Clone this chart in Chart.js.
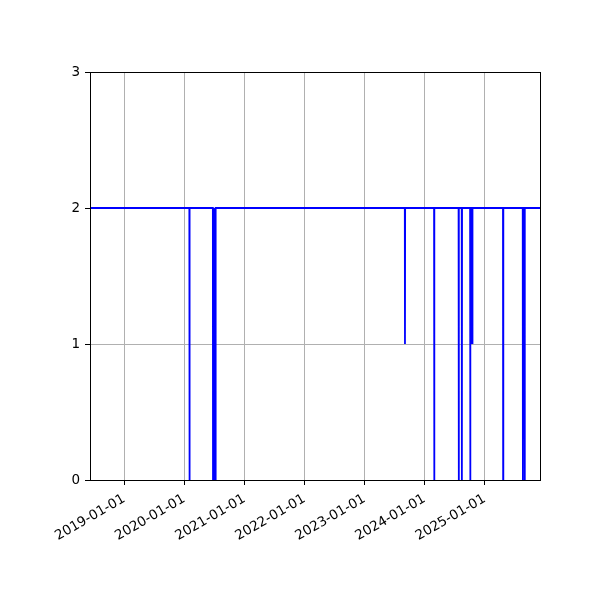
<!DOCTYPE html>
<html>
<head>
<meta charset="utf-8">
<script src="https://cdn.jsdelivr.net/npm/chart.js"></script>
<style>
  html, body { margin: 0; padding: 0; background: #fff; }
  #c { display: block; }
</style>
</head>
<body>
<canvas id="c" width="600" height="600"></canvas>
<script>
// series: level 2 with short drops to 0 or 1
const dates = [
  '2018-06-07',
  '2020-02-01', '2020-02-02', '2020-02-03',
  '2020-06-23', '2020-06-24', '2020-06-25',
  '2020-06-29', '2020-06-30', '2020-07-01',
  '2020-07-05', '2020-07-06', '2020-07-07',
  '2020-07-10', '2020-07-11', '2020-07-12',
  '2023-09-03', '2023-09-04', '2023-09-05',
  '2024-02-28', '2024-02-29', '2024-03-01',
  '2024-07-26', '2024-07-27', '2024-07-28',
  '2024-08-14', '2024-08-15', '2024-08-16',
  '2024-10-04', '2024-10-05', '2024-10-06',
  '2024-10-11', '2024-10-12', '2024-10-13',
  '2024-10-17', '2024-10-18', '2024-10-19',
  '2025-04-22', '2025-04-23', '2025-04-24',
  '2025-08-20', '2025-08-21', '2025-08-22',
  '2025-08-31', '2025-09-01', '2025-09-02',
  '2025-12-03'
];
const values = [
  2,
  2, 0, 2,
  2, 0, 2,
  2, 0, 2,
  2, 0, 2,
  2, 0, 2,
  2, 1, 2,
  2, 0, 2,
  2, 0, 2,
  2, 0, 2,
  2, 0, 2,
  2, 1, 2,
  2, 1, 2,
  2, 0, 2,
  2, 0, 2,
  2, 0, 2,
  2
];
const xMin = '2018-06-07';
const xMax = '2025-12-03';
const tickDates = ['2019-01-01', '2020-01-01', '2021-01-01', '2022-01-01',
                   '2023-01-01', '2024-01-01', '2025-01-01'];
const yTicks = [0, 1, 2, 3];

const points = dates.map((d, i) => ({ x: Date.parse(d), y: values[i] }));

// matplotlib style frame on all four sides
const frame = {
  id: 'frame',
  afterDraw(chart) {
    const a = chart.chartArea, g = chart.ctx;
    g.save();
    g.strokeStyle = '#000';
    g.lineWidth = 1;
    g.strokeRect(Math.round(a.left) + 0.5, Math.round(a.top) + 0.5,
                 Math.round(a.right - a.left), Math.round(a.bottom - a.top));
    g.restore();
  }
};

const font = { family: 'DejaVu Sans', size: 13.5 };

new Chart(document.getElementById('c'), {
  type: 'line',
  data: {
    datasets: [{
      data: points,
      borderColor: '#0000ff',
      borderWidth: 1.8,
      pointRadius: 0,
      tension: 0,
      fill: false
    }]
  },
  options: {
    responsive: false,
    animation: false,
    devicePixelRatio: 1,
    layout: { padding: { top: 72, right: 60, left: 0, bottom: 0 } },
    plugins: { legend: { display: false }, tooltip: { enabled: false } },
    scales: {
      x: {
        type: 'linear',
        min: Date.parse(xMin),
        max: Date.parse(xMax),
        afterBuildTicks(scale) {
          scale.ticks = tickDates.map(d => ({ value: Date.parse(d) }));
        },
        afterFit(scale) { scale.height = 120; },
        ticks: {
          color: '#000',
          font: font,
          minRotation: 30,
          maxRotation: 30,
          autoSkip: false,
          padding: 6,
          callback: v => new Date(v).toISOString().slice(0, 10)
        },
        grid: { color: '#b0b0b0', tickColor: '#000', tickLength: 5, lineWidth: 1 },
        border: { color: '#000' }
      },
      y: {
        min: 0,
        max: 3,
        afterBuildTicks(scale) {
          scale.ticks = yTicks.map(v => ({ value: v }));
        },
        afterFit(scale) { scale.width = 90; },
        ticks: { color: '#000', font: font, padding: 5 },
        grid: { color: '#b0b0b0', tickColor: '#000', tickLength: 5, lineWidth: 1 },
        border: { color: '#000' }
      }
    }
  },
  plugins: [frame]
});
</script>
</body>
</html>
